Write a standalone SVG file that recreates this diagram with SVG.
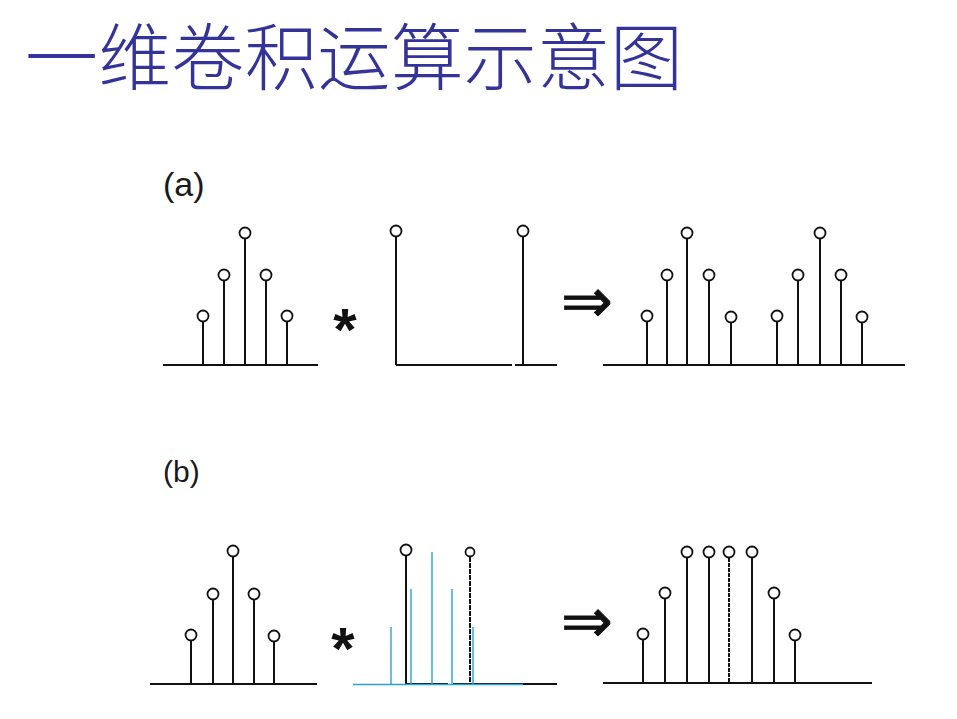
<svg xmlns="http://www.w3.org/2000/svg" width="957" height="719" viewBox="0 0 957 719">
<style>
.ax{stroke:#111;stroke-width:2;fill:none}
.st{stroke:#111;stroke-width:2;fill:none}
.c{fill:#fff;stroke:#111;stroke-width:1.8}
.bl{stroke:#27a3da;stroke-width:1.4;fill:none}
.lbl{font-family:"Liberation Sans",Arial,sans-serif;fill:#1a1a1a}
.star{font-family:"Liberation Sans",Arial,sans-serif;font-weight:bold;fill:#111;text-anchor:middle}
.arr{font-family:"DejaVu Sans",sans-serif;fill:#111;stroke:#111;stroke-width:0.8;text-anchor:middle}
</style>
<rect width="957" height="719" fill="#fff"/>
<text id="title" x="25" y="84" font-family="'Noto Sans CJK SC','Noto Sans CJK JP',sans-serif" font-size="73" font-weight="300" fill="#333399" textLength="658">一维卷积运算示意图</text>

<g id="panel-a">
<text class="lbl" x="163" y="196" font-size="34">(a)</text>
<g id="a-input">
<line class="ax" x1="163" y1="365" x2="318" y2="365"/>
<line class="st" x1="203" y1="322" x2="203" y2="365"/>
<line class="st" x1="224" y1="281" x2="224" y2="365"/>
<line class="st" x1="245" y1="239" x2="245" y2="365"/>
<line class="st" x1="266" y1="281" x2="266" y2="365"/>
<line class="st" x1="287" y1="322" x2="287" y2="365"/>
<circle class="c" cx="203" cy="316" r="5.5"/>
<circle class="c" cx="224" cy="275" r="5.5"/>
<circle class="c" cx="245" cy="233" r="5.5"/>
<circle class="c" cx="266" cy="275" r="5.5"/>
<circle class="c" cx="287" cy="316" r="5.5"/>
</g>
<text class="star" x="345" y="350" font-size="60">*</text>
<g id="a-kernel">
<line class="ax" x1="396" y1="365" x2="512" y2="365"/>
<line class="ax" x1="515" y1="365" x2="557" y2="365"/>
<line class="st" x1="396" y1="237" x2="396" y2="365"/>
<line class="st" x1="523" y1="237" x2="523" y2="365"/>
<circle class="c" cx="396" cy="231" r="5.5"/>
<circle class="c" cx="523" cy="231" r="5.5"/>
</g>
<text class="arr" x="587" y="322" font-size="62">⇒</text>
<g id="a-output">
<line class="ax" x1="603" y1="365" x2="905" y2="365"/>
<line class="st" x1="647" y1="322" x2="647" y2="365"/>
<line class="st" x1="667" y1="281" x2="667" y2="365"/>
<line class="st" x1="687" y1="239" x2="687" y2="365"/>
<line class="st" x1="709" y1="281" x2="709" y2="365"/>
<line class="st" x1="731" y1="322" x2="731" y2="365"/>
<line class="st" x1="777" y1="322" x2="777" y2="365"/>
<line class="st" x1="798" y1="281" x2="798" y2="365"/>
<line class="st" x1="820" y1="239" x2="820" y2="365"/>
<line class="st" x1="841" y1="281" x2="841" y2="365"/>
<line class="st" x1="862" y1="323" x2="862" y2="365"/>
<circle class="c" cx="647" cy="316" r="5.5"/>
<circle class="c" cx="667" cy="275" r="5.5"/>
<circle class="c" cx="687" cy="233" r="5.5"/>
<circle class="c" cx="709" cy="275" r="5.5"/>
<circle class="c" cx="731" cy="317" r="5.5"/>
<circle class="c" cx="777" cy="316" r="5.5"/>
<circle class="c" cx="798" cy="275" r="5.5"/>
<circle class="c" cx="820" cy="233" r="5.5"/>
<circle class="c" cx="841" cy="275" r="5.5"/>
<circle class="c" cx="862" cy="317" r="5.5"/>
</g>
</g>

<g id="panel-b">
<text class="lbl" x="163" y="482" font-size="30">(b)</text>
<g id="b-input">
<line class="ax" x1="150" y1="684" x2="317" y2="684"/>
<line class="st" x1="191" y1="641" x2="191" y2="684"/>
<line class="st" x1="213" y1="600" x2="213" y2="684"/>
<line class="st" x1="233" y1="557" x2="233" y2="684"/>
<line class="st" x1="254" y1="600" x2="254" y2="684"/>
<line class="st" x1="274" y1="641" x2="274" y2="684"/>
<circle class="c" cx="191" cy="635" r="5.5"/>
<circle class="c" cx="213" cy="594" r="5.5"/>
<circle class="c" cx="233" cy="551" r="5.5"/>
<circle class="c" cx="254" cy="594" r="5.5"/>
<circle class="c" cx="274" cy="636" r="5.5"/>
</g>
<text class="star" x="343" y="669" font-size="60">*</text>
<g id="b-kernel">
<line class="ax" x1="405" y1="684" x2="448" y2="684"/>
<line class="ax" x1="453" y1="684" x2="557" y2="684"/>
<line class="st" x1="406" y1="556" x2="406" y2="684"/>
<line class="st" x1="470" y1="557" x2="470" y2="684" stroke-dasharray="5 1"/>
<circle class="c" cx="406" cy="550" r="5.5"/>
<circle class="c" cx="470" cy="552" r="4.5"/>
<line class="bl" x1="353" y1="684.5" x2="523" y2="684.5"/>
<line class="bl" x1="391" y1="627" x2="391" y2="684"/>
<line class="bl" x1="411" y1="589" x2="411" y2="684"/>
<line class="bl" x1="432" y1="552" x2="432" y2="684"/>
<line class="bl" x1="452" y1="589" x2="452" y2="684"/>
<line class="bl" x1="473" y1="627" x2="473" y2="684"/>
</g>
<text class="arr" x="587" y="642" font-size="62">⇒</text>
<g id="b-output">
<line class="ax" x1="603" y1="683" x2="872" y2="683"/>
<line class="st" x1="643" y1="640" x2="643" y2="683"/>
<line class="st" x1="665" y1="599" x2="665" y2="683"/>
<line class="st" x1="687" y1="558" x2="687" y2="683"/>
<line class="st" x1="709" y1="558" x2="709" y2="683"/>
<line class="st" x1="729" y1="558" x2="729" y2="683" stroke-dasharray="4 1"/>
<line class="st" x1="752" y1="558" x2="752" y2="683"/>
<line class="st" x1="774" y1="599" x2="774" y2="683"/>
<line class="st" x1="795" y1="640" x2="795" y2="683"/>
<circle class="c" cx="643" cy="634" r="5.5"/>
<circle class="c" cx="665" cy="593" r="5.5"/>
<circle class="c" cx="687" cy="552" r="5.5"/>
<circle class="c" cx="709" cy="552" r="5.5"/>
<circle class="c" cx="729" cy="552" r="5.5"/>
<circle class="c" cx="752" cy="552" r="5.5"/>
<circle class="c" cx="774" cy="593" r="5.5"/>
<circle class="c" cx="795" cy="635" r="5.5"/>
</g>
</g>
</svg>
